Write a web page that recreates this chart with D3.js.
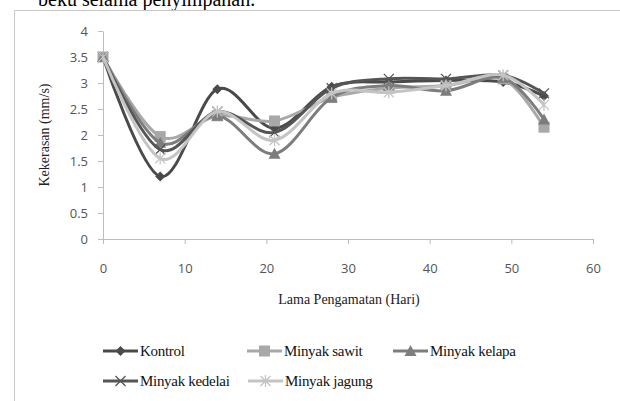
<!DOCTYPE html>
<html><head><meta charset="utf-8">
<script src="https://cdn.jsdelivr.net/npm/d3@7"></script>
<style>body{margin:0;background:#fff;}svg{display:block;}</style>
</head><body>
<script>
const days = [0, 7, 14, 21, 28, 35, 42, 49, 54];
const seriesNames = ["Kontrol", "Minyak sawit", "Minyak kelapa", "Minyak kedelai", "Minyak jagung"];
const kontrol = [3.5, 1.2, 2.88, 2.13, 2.93, 3.02, 3.05, 3.02, 2.75];
const sawit   = [3.5, 1.97, 2.37, 2.27, 2.72, 2.9, 2.95, 3.08, 2.15];
const kelapa  = [3.5, 1.85, 2.37, 1.64, 2.72, 2.95, 2.85, 3.1, 2.3];
const kedelai = [3.5, 1.72, 2.45, 2.05, 2.9, 3.08, 3.08, 3.15, 2.8];
const jagung  = [3.5, 1.55, 2.45, 1.9, 2.8, 2.82, 2.95, 3.15, 2.58];
const xTicks = [0, 10, 20, 30, 40, 50, 60];
const yTicks = [0, 0.5, 1, 1.5, 2, 2.5, 3, 3.5, 4];

const W = 620, H = 401;
const svg = d3.select("body").append("svg").attr("width", W).attr("height", H);

// frame & top text
svg.append("text").attr("x", 38).attr("y", 6).attr("font-family", "Liberation Serif, Times New Roman, serif")
  .attr("font-size", 20).attr("fill", "#000").text("beku selama penyimpanan.");
svg.append("path").attr("d", `M14.5,${H} V10.5 H${W}`).attr("fill", "none").attr("stroke", "#c8c8c8").attr("stroke-width", 1);

const x = d3.scaleLinear().domain([0, 60]).range([103, 593]);
const y = d3.scaleLinear().domain([0, 4]).range([239, 31]);

const axisColor = "#bdbdbd";
const tickFont = "Open Sans, Liberation Sans, sans-serif";
const fmt = d3.format("~g");

const gx = svg.append("g").attr("transform", `translate(0,${y(0)})`)
  .call(d3.axisBottom(x).tickValues(xTicks).tickFormat(fmt).tickSize(5).tickPadding(20).tickSizeOuter(0));
gx.select(".domain").attr("stroke", axisColor);
gx.selectAll(".tick line").attr("stroke", axisColor);
gx.selectAll(".tick text").attr("font-family", tickFont).attr("font-size", 13).attr("fill", "#555");

const gy = svg.append("g").attr("transform", `translate(${x(0)},0)`)
  .call(d3.axisLeft(y).tickValues(yTicks).tickFormat(fmt).tickSize(5).tickPadding(10).tickSizeOuter(0));
gy.select(".domain").attr("stroke", axisColor);
gy.selectAll(".tick line").attr("stroke", axisColor);
gy.selectAll(".tick text").attr("font-family", tickFont).attr("font-size", 13).attr("fill", "#555");

const serif = "Liberation Serif, Times New Roman, serif";
svg.append("text").attr("x", 349).attr("y", 304).attr("text-anchor", "middle")
  .attr("font-family", serif).attr("font-size", 14).attr("fill", "#222").text("Lama Pengamatan (Hari)");
svg.append("text").attr("transform", `translate(49,135) rotate(-90)`).attr("text-anchor", "middle")
  .attr("font-family", serif).attr("font-size", 14).attr("fill", "#222").text("Kekerasan (mm/s)");

const styles = [
  {color: "#4a4a4a", marker: "diamond"},
  {color: "#a8a8a8", marker: "square"},
  {color: "#7d7d7d", marker: "triangle"},
  {color: "#555555", marker: "x"},
  {color: "#c4c4c4", marker: "star"}
];
const allValues = [kontrol, sawit, kelapa, kedelai, jagung];

function drawMarker(g, type, cx, cy, color) {
  if (type === "diamond") {
    g.append("path").attr("d", `M${cx},${cy-5} L${cx+5},${cy} L${cx},${cy+5} L${cx-5},${cy} Z`).attr("fill", color);
  } else if (type === "square") {
    g.append("rect").attr("x", cx-5.5).attr("y", cy-5.5).attr("width", 11).attr("height", 11).attr("fill", color);
  } else if (type === "triangle") {
    g.append("path").attr("d", `M${cx},${cy-6} L${cx+6},${cy+5} L${cx-6},${cy+5} Z`).attr("fill", color);
  } else if (type === "x") {
    g.append("path").attr("d", `M${cx-5},${cy-5} L${cx+5},${cy+5} M${cx-5},${cy+5} L${cx+5},${cy-5}`)
      .attr("stroke", color).attr("stroke-width", 1.3);
  } else if (type === "star") {
    g.append("path").attr("d", `M${cx-5},${cy-5} L${cx+5},${cy+5} M${cx-5},${cy+5} L${cx+5},${cy-5} M${cx},${cy-6} L${cx},${cy+6}`)
      .attr("stroke", color).attr("stroke-width", 1.3);
  }
}

const line = d3.line().x(d => x(d[0])).y(d => y(d[1])).curve(d3.curveCardinal.tension(0));
allValues.forEach((vals, i) => {
  const pts = days.map((d, j) => [d, vals[j]]);
  const g = svg.append("g");
  g.append("path").attr("d", line(pts)).attr("fill", "none")
    .attr("stroke", styles[i].color).attr("stroke-width", 3).attr("stroke-linejoin", "round");
  pts.forEach(p => drawMarker(g, styles[i].marker, x(p[0]), y(p[1]), styles[i].color));
});

// legend
const legendPos = [[103, 351], [247, 351], [393, 351], [103, 381], [248, 381]];
seriesNames.forEach((name, i) => {
  const [lx, ly] = legendPos[i];
  const g = svg.append("g");
  g.append("line").attr("x1", lx).attr("x2", lx + 35).attr("y1", ly).attr("y2", ly)
    .attr("stroke", styles[i].color).attr("stroke-width", 3);
  drawMarker(g, styles[i].marker, lx + 17.5, ly, styles[i].color);
  g.append("text").attr("x", lx + 37).attr("y", ly + 5).attr("font-family", serif).attr("font-size", 15)
    .attr("fill", "#111").attr("letter-spacing", -0.3).text(name);
});
</script>
</body></html>
